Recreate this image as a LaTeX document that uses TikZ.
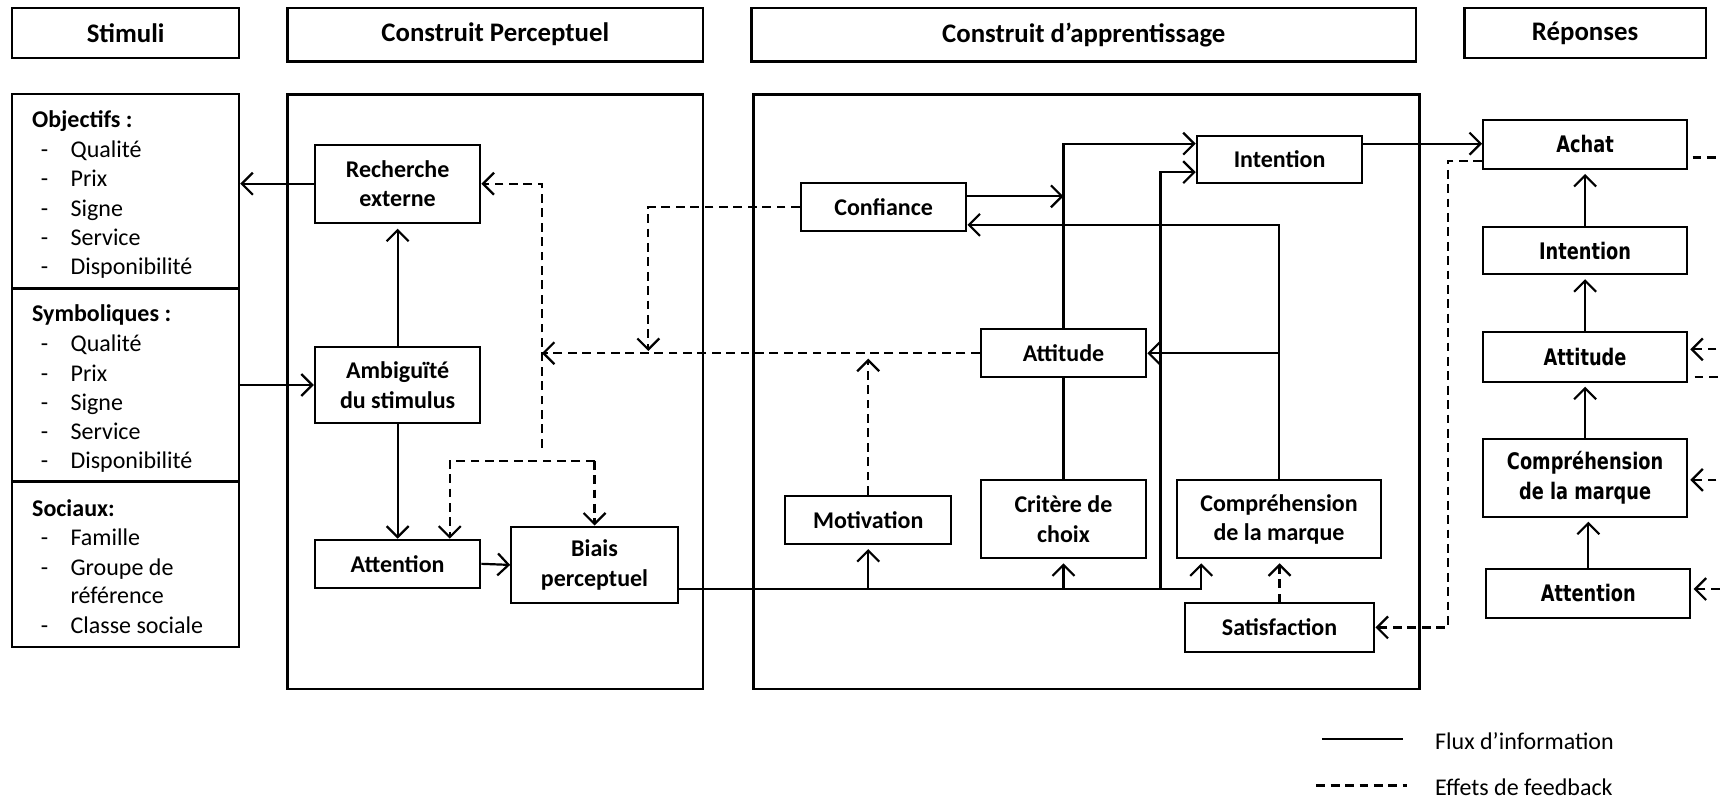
\documentclass[tikz,border=0pt]{standalone}
\usepackage{fontspec}
\setmainfont{Carlito}
\newfontfamily\repfont[FakeStretch=0.78]{DejaVu Sans}
\usetikzlibrary{arrows.meta,calc}

% \bx[options]{name}{x1}{y1}{x2}{y2}{text}: a box given by two opposite corners
\newcommand{\bx}[7][]{\node[box,minimum width={(#5-#3)*0.5486pt},minimum height={(#6-#4)*0.5486pt},#1] (#2) at ({(#3+#5)/2},{(#4+#6)/2}) {#7};}

\begin{document}
\begin{tikzpicture}[x=0.5486pt,y=-0.5486pt,
  box/.style={draw, line width=1pt, inner sep=0pt, align=center, font=\bfseries\fontsize{12}{14.8}\selectfont},
  head/.style={box, line width=1.1pt, font=\bfseries\fontsize{13.4}{16}\selectfont},
  rep/.style={font=\repfont\bfseries\fontsize{11.4}{14.8}\selectfont},
  frame/.style={box, line width=1.3pt},
  lbl/.style={anchor=west, inner sep=0pt, yshift=-1.9pt, text height=1.6ex, text depth=0.45ex, font=\fontsize{12}{14.8}\selectfont},
  lblb/.style={lbl, font=\bfseries\fontsize{12}{14.8}\selectfont},
  flow/.style={line width=1.1pt},
  tip/.style={-{Straight Barb[length=5.5pt,width=11pt,line width=1.1pt]}},
  arr/.style={flow, tip},
  fb/.style={line width=1.1pt, dash pattern=on 4.4pt off 2.8pt},
  fbarr/.style={fb, tip},
]
\useasboundingbox (0,0) rectangle (1568,729);
\clip (0,0) rectangle (1568,729);

% column headers
\bx[head]{hstim}{11}{7}{218}{53}{Stimuli}
\bx[head]{hperc}{262}{7}{641}{56}{Construit Perceptuel}
\bx[head]{happ}{685}{7}{1291}{56}{Construit d’apprentissage}
\bx[head]{hrep}{1335}{7}{1555}{53}{Réponses}

% stimuli boxes
\bx[line width=1.1pt]{obj}{11}{86}{218}{263}{}
\bx[line width=1.1pt]{sym}{11}{263}{218}{439}{}
\bx[line width=1.1pt]{soc}{11}{439}{218}{590}{}

\node[lblb] (objt) at (29,108) {Objectifs :};
\foreach \t/\y [count=\i] in {Qualité/135, Prix/162, Signe/189, Service/215, Disponibilité/242}{
  \node[lbl] (objd\i) at (37,\y) {-};
  \node[lbl] (obji\i) at (64,\y) {\t};
}
\node[lblb] (symt) at (29,285) {Symboliques :};
\foreach \t/\y [count=\i] in {Qualité/312, Prix/339, Signe/366, Service/392, Disponibilité/419}{
  \node[lbl] (symd\i) at (37,\y) {-};
  \node[lbl] (symi\i) at (64,\y) {\t};
}
\node[lblb] (soct) at (29,462) {Sociaux:};
\foreach \t/\y [count=\i] in {Famille/489, Groupe de/516, Classe sociale/569}{
  \node[lbl] (socd\i) at (37,\y) {-};
  \node[lbl] (soci\i) at (64,\y) {\t};
}
\node[lbl] (socr) at (64,542) {référence};

% construct frames
\bx[frame]{fperc}{262}{86}{641}{628}{}
\bx[frame]{fapp}{687}{86}{1294}{628}{}

% perceptual construct
\bx{rech}{287}{132}{438}{203}{Recherche\\externe}
\bx{amb}{287}{316}{438}{386}{Ambiguïté\\du stimulus}
\bx{att1}{287}{492}{438}{536}{Attention}
\bx{biais}{466}{480}{618}{550}{Biais\\perceptuel}

% learning construct
\bx{conf}{730}{167}{881}{211}{Confiance}
\bx{int1}{1091}{124}{1242}{167}{Intention}
\bx{attd}{894}{300}{1045}{344}{Attitude}
\bx{motiv}{716}{452}{867}{496}{Motivation}
\bx{crit}{894}{438}{1045}{509}{Critère de\\choix}
\bx{comp}{1073}{438}{1259}{509}{Compréhension\\de la marque}
\bx{satis}{1080}{550}{1253}{594}{Satisfaction}

% responses
\bx[rep]{achat}{1352}{109}{1538}{154}{Achat}
\bx[rep]{int2}{1352}{207}{1538}{250}{Intention}
\bx[rep]{attd2}{1352}{303}{1538}{348}{Attitude}
\bx[rep]{comp2}{1352}{400}{1538}{471}{Compréhension\\de la marque}
\bx[rep]{att2}{1355}{519}{1541}{563}{Attention}

% ---- information flow: perceptual
\draw[arr] (rech.west) -- (rech.west -| obj.east);
\draw[arr] (amb.west -| sym.east) -- (amb.west);
\draw[arr, shorten >=2.5pt] (amb.north) -- (rech.south);
\draw[arr] (amb.south) -- (att1.north);
\draw[arr] (att1.east) -- (biais.west);

% ---- feedback: perceptual
\coordinate (fbv) at (494,168);
\coordinate (fbb) at (494,408);
\coordinate (fbl) at (410,420);
\coordinate (fbr) at (542,420);
\coordinate (cfb) at (591,320);
\coordinate (mfb) at (792,327);
\draw[fbarr] (attd.west) -- (attd.west -| fbv);
\draw[fbarr] (fbb) -- (fbv |- rech.east) -- (rech.east);
\draw[fbarr] (fbr) -- (fbl) -- (fbl |- att1.north);
\draw[fbarr] (fbr) -- (fbr |- biais.north);
\draw[fbarr] (conf.west) -| (cfb);
\draw[fbarr] (motiv.north) -- (motiv.north |- mfb);

% ---- information flow: learning
\coordinate (i1a) at ($(int1.west)+(0,-14.5)$);
\coordinate (i1b) at ($(int1.west)+(0,11.5)$);
\coordinate (c1) at ($(conf.east)+(0,-10)$);
\coordinate (c2) at ($(conf.east)+(0,16)$);
\coordinate (bl) at ($(biais.east)+(0,22)$);
\coordinate (v1) at (1058,537);
\coordinate (cin) at ($(comp.south west)+(23,0)$);

\draw[arr] (attd.north) |- (i1a);
\draw[arr] (c1) -- (c1 -| attd.north);
\draw[arr] (comp.north) |- (c2);
\draw[arr] (comp.north |- attd.east) -- (attd.east);
\draw[flow] (crit.north) -- (attd.south);
\draw[arr] (v1) |- (i1b);
\draw[arr, shorten >=2pt] (bl) -| (cin);
\draw[arr, shorten >=2pt] (bl -| motiv.south) -- (motiv.south);
\draw[arr, shorten >=2pt] (bl -| crit.south) -- (crit.south);
\draw[fbarr, shorten >=2pt] (satis.north) -- (satis.north |- comp.south);
\draw[arr] (i1a -| int1.east) -- (i1a -| achat.west);

% ---- responses
\draw[arr, shorten >=2pt] (att2.north) -- (att2.north |- comp2.south);
\draw[arr, shorten >=2pt] (comp2.north) -- (comp2.north |- attd2.south);
\draw[arr, shorten >=2pt] (attd2.north) -- (attd2.north |- int2.south);
\draw[arr, shorten >=2pt] (int2.north) -- (int2.north |- achat.south);

\coordinate (ac) at ($(achat.west)+(0,15)$);
\coordinate (rx) at (1320,573);
\draw[fbarr] (ac) -- (ac -| rx) |- (satis.east);

% feedback running off to the right
\draw[fb] ($(achat.east)+(4,12)$) -- ++(60,0);
\draw[fbarr] ($(attd2.east)+(52,-7)$) -- ($(attd2.east)+(2,-7)$);
\draw[fb] ($(attd2.east)+(6,18)$) -- ++(60,0);
\draw[fbarr] ($(comp2.east)+(52,2)$) -- ($(comp2.east)+(2,2)$);
\draw[fbarr] ($(att2.east)+(52,-4)$) -- ($(att2.east)+(2,-4)$);

% legend
\coordinate (l1a) at (1205,674);
\coordinate (l1b) at (1279,674);
\coordinate (l2a) at (1200,716);
\coordinate (l2b) at (1283,716);
\draw[flow] (l1a) -- (l1b);
\draw[fb] (l2a) -- (l2b);
\node[lbl] (leg1) at (1308,675) {Flux d’information};
\node[lbl] (leg2) at (1308,717) {Effets de feedback};
\end{tikzpicture}
\end{document}
